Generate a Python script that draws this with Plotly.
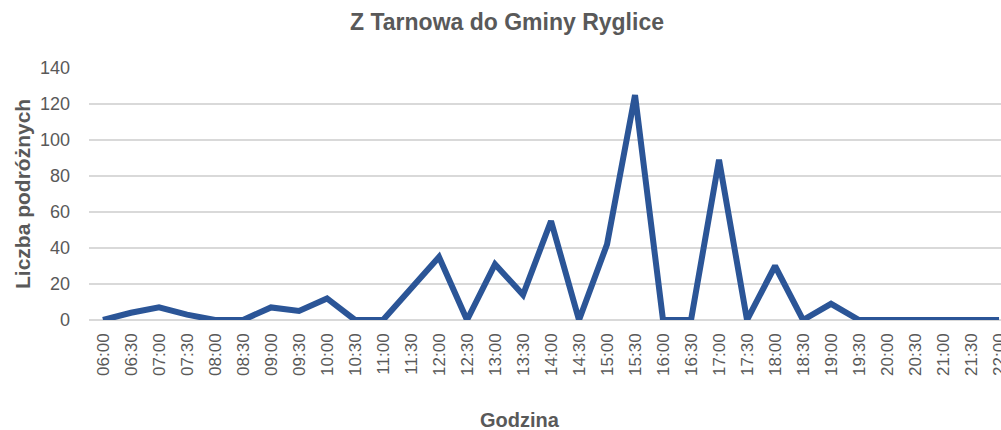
import plotly.graph_objects as go

hours = ["06:00","06:30","07:00","07:30","08:00","08:30","09:00","09:30","10:00","10:30",
         "11:00","11:30","12:00","12:30","13:00","13:30","14:00","14:30","15:00","15:30",
         "16:00","16:30","17:00","17:30","18:00","18:30","19:00","19:30","20:00","20:30",
         "21:00","21:30","22:00"]
passengers = [0,4,7,3,0,0,7,5,12,0,
              0,17,35,0,31,14,55,0,42,125,
              0,0,89,0,30,0,9,0,0,0,
              0,0,0]
y_ticks = [0,20,40,60,80,100,120,140]

FONT = "Liberation Sans Narrow, Arial Narrow, Liberation Sans, Arial, sans-serif"
GRAY = "#595959"

W, H = 1001, 430
L, T, B = 89, 68, 320
PW, PH = W - L, B - T

fig = go.Figure()
fig.add_trace(go.Scatter(x=hours, y=passengers, mode="lines",
                         line=dict(color="#2B5597", width=6),
                         hoverinfo="x+y"))

fig.update_layout(
    width=W, height=H,
    margin=dict(l=L, r=0, t=T, b=H - B, pad=0, autoexpand=False),
    paper_bgcolor="white", plot_bgcolor="white",
    showlegend=False,
    font=dict(family=FONT, color=GRAY),
    title=dict(text="<b>Z Tarnowa do Gminy Ryglice</b>",
               font=dict(family=FONT, size=23, color=GRAY),
               xref="container", x=507 / W, xanchor="center",
               yref="container", y=1 - 22 / H, yanchor="middle"),
    xaxis=dict(type="category", range=[-0.5, 32.07], automargin=False,
               tickangle=-90, tickfont=dict(family=FONT, size=17, color=GRAY),
               showgrid=False, showline=False, zeroline=False,
               ticks="", ticklabelstandoff=9, ticklabeloverflow="allow"),
    yaxis=dict(range=[0, 140], tickvals=y_ticks, automargin=False,
               tickfont=dict(family=FONT, size=18, color=GRAY),
               showgrid=True, gridcolor="#D9D9D9", gridwidth=1.5,
               zeroline=True, zerolinecolor="#D9D9D9", zerolinewidth=1.5,
               showline=False, ticks="", ticklabelstandoff=18),
    annotations=[
        dict(text="<b>Liczba podróżnych</b>", xref="paper", yref="paper",
             x=(22 - L) / PW, y=0.5, xanchor="center", yanchor="middle",
             textangle=-90, showarrow=False,
             font=dict(family=FONT, size=21, color=GRAY)),
        dict(text="<b>Godzina</b>", xref="paper", yref="paper",
             x=(520 - L) / PW, y=-(420 - B) / PH, xanchor="center", yanchor="middle",
             showarrow=False,
             font=dict(family=FONT, size=20, color=GRAY)),
    ],
)

# remove the browser's default 8px body margin so the figure fills the window exactly
fig.write_html("out.html",
               config={"displayModeBar": False},
               post_script="document.body.style.margin='0';document.body.style.overflow='hidden';")
